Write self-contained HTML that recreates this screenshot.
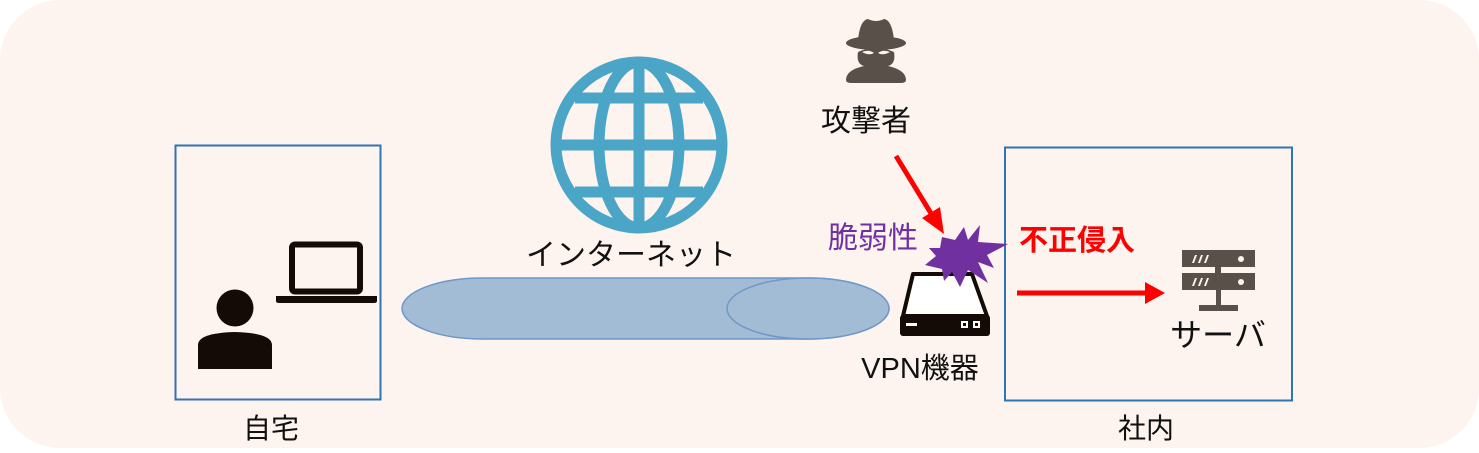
<!DOCTYPE html>
<html><head><meta charset="utf-8"><style>
body{margin:0;background:#fff;width:1479px;height:448px;overflow:hidden}
svg text{font-family:"Liberation Sans","Noto Sans CJK JP",sans-serif}
</style></head><body>
<svg width="1479" height="448" viewBox="0 0 1479 448">
<rect x="0" y="0" width="1479" height="448" rx="60" fill="#fdf4ef"/>
<rect x="175.5" y="145.5" width="205" height="254" fill="none" stroke="#2e75b6" stroke-width="2"/>
<rect x="1005" y="147.5" width="287" height="253" fill="none" stroke="#2e75b6" stroke-width="2"/>
<text x="271" y="438" font-size="28" text-anchor="middle" fill="#111">自宅</text>
<text x="1146" y="438" font-size="28" text-anchor="middle" fill="#111">社内</text>
<circle cx="235" cy="308" r="18.5" fill="#150b06"/>
<path d="M198 369 V345 Q198 333 235 332 Q272 333 272 345 V369 Z" fill="#150b06"/>
<rect x="292" y="244.5" width="68" height="47" rx="3" fill="none" stroke="#150b06" stroke-width="6"/>
<path d="M276 296 H377 V301 Q377 303 374 303 H279 Q276 303 276 301 Z" fill="#150b06"/>
<g fill="none" stroke="#4aa5c7" stroke-width="11">
<circle cx="639" cy="145" r="83"/>
<ellipse cx="639" cy="145" rx="40" ry="83"/>
<line x1="639" y1="62" x2="639" y2="228"/>
<line x1="556" y1="145" x2="722" y2="145"/>
<line x1="575" y1="98" x2="703" y2="98"/>
<line x1="575" y1="192" x2="703" y2="192"/>
</g>
<text x="631" y="265" font-size="30" text-anchor="middle" fill="#111">インターネット</text>
<path d="M483 278 H808 A81 30.5 0 0 1 808 339 H483 A81 30.5 0 0 1 483 278 Z" fill="#a3bcd6" stroke="#6f97c8" stroke-width="1.5"/>
<ellipse cx="808" cy="308.5" rx="81" ry="30.5" fill="#a3bcd6" stroke="#6f97c8" stroke-width="1.5"/>
<g fill="#595049">
<ellipse cx="876" cy="43" rx="30" ry="7"/>
<path d="M858 40 Q860 20 868 19 Q876 23 884 19 Q892 20 894 40 Z"/>
<path d="M858 52 Q876 44 894 52 Q896 64 888 66 Q906 70 906 80 Q906 83 900 83 H852 Q846 83 846 80 Q846 70 864 66 Q856 64 858 52 Z"/>
</g>
<path d="M862 52 Q869 49 874 53 Q869 56 862 52 Z M878 53 Q883 49 890 52 Q883 56 878 53Z" fill="#fdf4ef"/>
<text x="866" y="131" font-size="30" text-anchor="middle" fill="#111">攻撃者</text>
<line x1="896" y1="156" x2="932" y2="215" stroke="#f00" stroke-width="5"/>
<polygon points="944,234 922,218 940,207" fill="#f00"/>
<text x="873" y="248" font-size="30" text-anchor="middle" fill="#7030a0">脆弱性</text>
<path d="M913 274 H972 L987 316 H903 Z" fill="#fff" stroke="#150b06" stroke-width="4" stroke-linejoin="round"/>
<rect x="900" y="315" width="90" height="21" rx="3" fill="#150b06"/>
<rect x="906" y="323" width="11" height="3" fill="#fff"/>
<rect x="961" y="321" width="7" height="7" fill="#fff"/><rect x="963" y="323" width="3" height="3" fill="#150b06"/>
<rect x="973" y="321" width="7" height="7" fill="#fff"/><rect x="975" y="323" width="3" height="3" fill="#150b06"/>
<polygon points="942,237 955,240 964,227 968,240 980,225 978,242 1008,244 987,255 994,268 978,262 988,283 968,270 960,287 952,272 944,281 942,269 925,265 936,256 929,248 940,248" fill="#7030a0"/>
<text x="1077" y="250" font-size="29" font-weight="bold" text-anchor="middle" fill="#f00">不正侵入</text>
<line x1="1017" y1="293" x2="1148" y2="293" stroke="#f00" stroke-width="5"/>
<polygon points="1165,293 1145,282 1145,304" fill="#f00"/>
<g fill="#595049">
<rect x="1182" y="250" width="73" height="17"/>
<rect x="1182" y="273" width="73" height="17"/>
<rect x="1215" y="267" width="6" height="6"/>
<rect x="1216" y="290" width="5" height="18"/>
<rect x="1199" y="305" width="39" height="6"/>
</g>
<g fill="#fdf4ef"><circle cx="1241" cy="259" r="3"/><circle cx="1241" cy="282" r="3"/>
<polygon points="1192,263 1195,255 1197,255 1194,263"/><polygon points="1198,263 1201,255 1203,255 1200,263"/><polygon points="1204,263 1207,255 1209,255 1206,263"/>
<polygon points="1192,286 1195,278 1197,278 1194,286"/><polygon points="1198,286 1201,278 1203,278 1200,286"/><polygon points="1204,286 1207,278 1209,278 1206,286"/></g>
<text x="1218" y="346" font-size="32" text-anchor="middle" fill="#111">サーバ</text>
<text x="920" y="378" font-size="29" text-anchor="middle" fill="#111">VPN機器</text>
</svg>
</body></html>
